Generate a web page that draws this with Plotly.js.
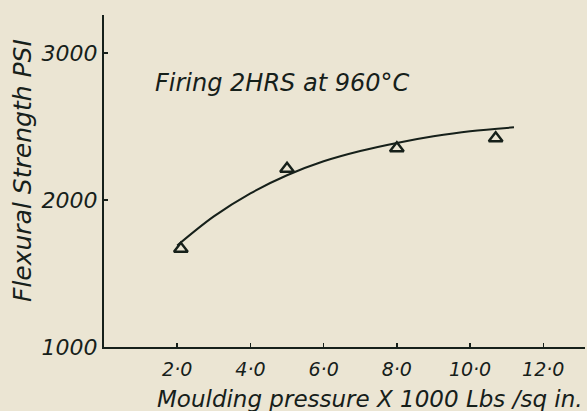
<!DOCTYPE html>
<html>
<head>
<meta charset="utf-8">
<script src="https://cdn.plot.ly/plotly-3.0.1.min.js"></script>
<style>
html,body{margin:0;padding:0;background:#ebe5d3;}
#chart{width:587px;height:411px;}
</style>
</head>
<body>
<div id="chart"></div>
<script>
// Measured points (triangles)
const pointPressure = [2.1, 5.0, 8.0, 10.7];
const pointStrength = [1668, 2212, 2352, 2420];

// Smooth fitted curve
const curvePressure = [2.0, 3.0, 4.0, 5.0, 6.0, 7.0, 8.0, 9.0, 10.0, 11.2];
const curveStrength = [1690, 1888, 2045, 2168, 2263, 2333, 2388, 2433, 2468, 2494];

const xTickVals = [2, 4, 6, 8, 10, 12];
const xTickText = ["2·0", "4·0", "6·0", "8·0", "10·0", "12·0"];
const yTickVals = [1000, 2000, 3000];
const yTickText = ["1000", "2000", "3000"];

const ink = "#16201a";
const fontFam = "DejaVu Sans";

const traces = [
  {
    x: curvePressure, y: curveStrength, type: "scatter", mode: "lines",
    line: {color: ink, width: 2, shape: "spline", smoothing: 1.0},
    hoverinfo: "skip", showlegend: false
  },
  {
    x: pointPressure, y: pointStrength, type: "scatter", mode: "markers",
    marker: {symbol: "triangle-up-open", size: 12, color: ink, line: {color: ink, width: 2.4}},
    showlegend: false
  }
];

const layout = {
  width: 587, height: 411,
  paper_bgcolor: "#ebe5d3", plot_bgcolor: "rgba(0,0,0,0)",
  margin: {l: 104, r: 2, t: 15, b: 64},
  showlegend: false,
  xaxis: {
    range: [0, 13.14], showgrid: false, zeroline: false,
    showline: true, linecolor: ink, linewidth: 2,
    ticks: "inside", ticklen: 4, tickwidth: 1.5, tickcolor: ink,
    tickmode: "array", tickvals: xTickVals, ticktext: xTickText,
    tickfont: {family: fontFam, size: 19, color: ink, style: "italic"},
    ticklabelstandoff: 4
  },
  yaxis: {
    range: [1000, 3258], showgrid: false, zeroline: false,
    showline: true, linecolor: ink, linewidth: 2,
    ticks: "inside", ticklen: 4, tickwidth: 1.5, tickcolor: ink,
    tickmode: "array", tickvals: yTickVals, ticktext: yTickText,
    tickfont: {family: fontFam, size: 22, color: ink, style: "italic"},
    ticklabelstandoff: 0
  },
  annotations: [
    {text: "Firing 2HRS at 960°C", xref: "paper", yref: "paper",
     x: (153-104)/481, y: (346-82)/332, xanchor: "left", yanchor: "middle",
     showarrow: false, font: {family: fontFam, size: 24, color: ink, style: "italic"}},
    {text: "Moulding pressure X 1000 Lbs /sq in.", xref: "paper", yref: "paper",
     x: (370-104)/481, y: (346-398)/332, xanchor: "center", yanchor: "middle",
     showarrow: false, font: {family: fontFam, size: 23, color: ink, style: "italic"}},
    {text: "Flexural Strength PSI", xref: "paper", yref: "paper",
     x: (22-104)/481, y: (346-170)/332, xanchor: "center", yanchor: "middle", textangle: -90,
     showarrow: false, font: {family: fontFam, size: 25, color: ink, style: "italic"}}
  ]
};

Plotly.newPlot("chart", traces, layout, {staticPlot: true, displayModeBar: false});
</script>
</body>
</html>
